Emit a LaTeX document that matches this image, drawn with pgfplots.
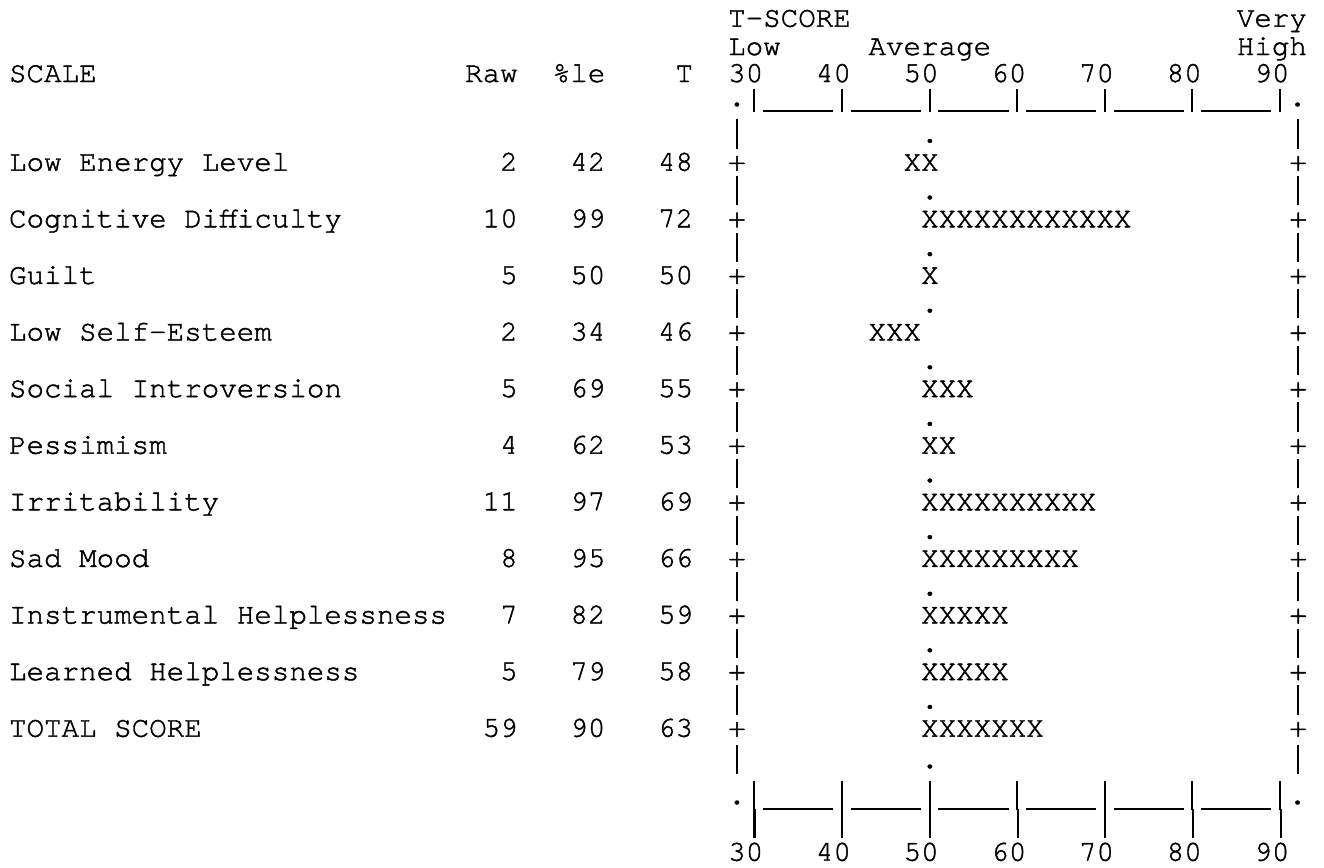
\documentclass[border=0pt]{standalone}
\usepackage{fontspec}
\usepackage{pgfplots}
\usepackage{pgfplotstable}
\pgfplotsset{compat=1.18}
\newfontfamily\mono[FakeBold=1.5]{texgyrecursor-regular.otf}
\newcommand\mf{\mono\fontsize{14.6}{17}\selectfont}
% typewriter bar and underscore, as tall and low as in the original print
\newcommand\vb{\makebox[0.6em]{\rule[-0.21em]{0.07em}{1.0em}}}
\newcommand\vbt{\makebox[0.6em]{\rule[-0.21em]{0.07em}{0.8em}}}
\newcommand\us{\rule[-0.21em]{0.6em}{0.065em}}
\newcommand\seg{\vbt\us\us\us\us}
\newcommand\segb{\vb\us\us\us\us}

% one X per column, from the 50 column to the column of T
\newcommand\xbar[1]{%
  \pgfmathtruncatemacro\xc{42+floor((#1-30)/2)}%
  \pgfmathtruncatemacro\xn{abs(\xc-52)+1}%
  \foreach \i in {1,...,\xn}{X}}

\pgfplotstableread[col sep=comma]{
line,name,raw,pct,t
5,Low Energy Level,2,42,48
7,Cognitive Difficulty,10,99,72
9,Guilt,5,50,50
11,Low Self-Esteem,2,34,46
13,Social Introversion,5,69,55
15,Pessimism,4,62,53
17,Irritability,11,97,69
19,Sad Mood,8,95,66
21,Instrumental Helplessness,7,82,59
23,Learned Helplessness,5,79,58
25,TOTAL SCORE,59,90,63
}\scales

\tikzset{txt/.style={inner sep=0pt, outer sep=0pt, font=\mf, text=black}}

\begin{document}
\begin{tikzpicture}
\begin{axis}[
  width=662pt, height=433.5pt, scale only axis,
  xmin=-56.03, xmax=94.94,
  ymin=0, ymax=867, y dir=reverse,
  hide axis, clip=false,
  nodes near coords align={center},
]
\path (rel axis cs:0,0) rectangle (rel axis cs:1,1);

% header
\node[txt, anchor=base west] at (axis cs:27,26.7) {T-SCORE};
\node[txt, anchor=base west] at (axis cs:85,26.7) {Very};
\node[txt, anchor=base west] at (axis cs:27,55) {Low};
\node[txt, anchor=base west] at (axis cs:43,55) {Average};
\node[txt, anchor=base west] at (axis cs:85,55) {High};
\node[txt, anchor=base west] at (axis cs:-55,82) {SCALE};
\node[txt, anchor=base east] at (axis cs:3,82) {Raw};
\node[txt, anchor=base east] at (axis cs:13,82) {\%le};
\node[txt, anchor=base east] at (axis cs:23,82) {T};

% scale rulers top and bottom
\pgfplotsinvokeforeach{30,40,...,90}{
  \node[txt, anchor=base east] at (axis cs:#1+1,82) {#1};
  \node[txt, anchor=base east] at (axis cs:#1+1,860.7) {#1};
  \node[txt, anchor=base] at (axis cs:#1,832) {\vb};
}
\node[txt, anchor=base west] at (axis cs:27,106) {.\seg\seg\seg\seg\seg\seg\vbt.};
\node[txt, anchor=base west] at (axis cs:27,804) {.\segb\segb\segb\segb\segb\segb\vb.};

% frame between rows
\pgfplotsinvokeforeach{142.4,199,255.6,312.2,368.8,425.4,482,538.6,595.2,651.8,708.4,768}{
  \node[txt, anchor=base] at (axis cs:28,#1) {\vb};
  \node[txt, anchor=base] at (axis cs:50,#1) {.};
  \node[txt, anchor=base] at (axis cs:92,#1) {\vb};
}
\pgfplotsinvokeforeach{5,7,...,25}{
  \node[txt, anchor=base] at (axis cs:28,{170.7+28.3*(#1-5)}) {+};
  \node[txt, anchor=base] at (axis cs:92,{170.7+28.3*(#1-5)}) {+};
}

% scale names and scores
\addplot[draw=none, nodes near coords, point meta=explicit symbolic,
  every node near coord/.append style={txt, anchor=base west}]
  table[x expr=-55, y expr={170.7+28.3*(\thisrow{line}-5)}, meta=name] {\scales};
\addplot[draw=none, nodes near coords, point meta=explicit symbolic,
  every node near coord/.append style={txt, anchor=base east}]
  table[x expr=3, y expr={170.7+28.3*(\thisrow{line}-5)}, meta=raw] {\scales};
\addplot[draw=none, nodes near coords, point meta=explicit symbolic,
  every node near coord/.append style={txt, anchor=base east}]
  table[x expr=13, y expr={170.7+28.3*(\thisrow{line}-5)}, meta=pct] {\scales};
\addplot[draw=none, nodes near coords, point meta=explicit symbolic,
  every node near coord/.append style={txt, anchor=base east}]
  table[x expr=23, y expr={170.7+28.3*(\thisrow{line}-5)}, meta=t] {\scales};

% X bars
\addplot[draw=none, nodes near coords={\xbar{\pgfplotspointmeta}},
  point meta=explicit symbolic,
  every node near coord/.append style={txt, anchor=base west}]
  table[x expr={2*min(42+floor((\thisrow{t}-30)/2),52)-55},
        y expr={170.7+28.3*(\thisrow{line}-5)}, meta=t] {\scales};
\end{axis}
\end{tikzpicture}
\end{document}
